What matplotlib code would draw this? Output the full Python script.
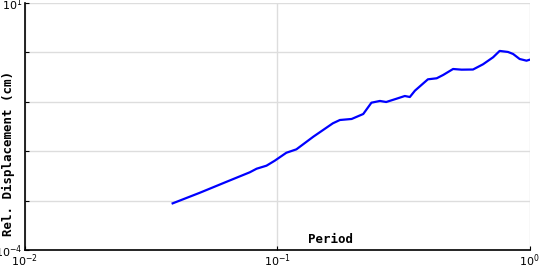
import numpy as np
import matplotlib
matplotlib.use("Agg")
import matplotlib.pyplot as plt

# spectrum values
period = [0.0385, 0.0493, 0.063, 0.0778, 0.0828, 0.0906, 0.0977, 0.1086, 0.119,
          0.139, 0.166, 0.177, 0.197, 0.219, 0.236, 0.255, 0.270, 0.297, 0.320,
          0.335, 0.351, 0.395, 0.428, 0.454, 0.497, 0.537, 0.596, 0.653, 0.716,
          0.760, 0.820, 0.859, 0.912, 0.971, 1.0]
disp = [8.8e-4, 1.44e-3, 2.41e-3, 3.74e-3, 4.42e-3, 5.09e-3, 6.42e-3, 9.3e-3, 0.0109,
        0.0197, 0.0367, 0.0428, 0.0449, 0.0566, 0.0959, 0.104, 0.099, 0.1156, 0.131,
        0.125, 0.168, 0.285, 0.299, 0.349, 0.461, 0.447, 0.450, 0.574, 0.796,
        1.07, 1.02, 0.929, 0.735, 0.679, 0.711]

xticks = [1e-2, 1e-1, 1e0]
xticklabels = ['$10^{-2}$', '$10^{-1}$', '$10^{0}$']
yticks = [1e-4, 1e-3, 1e-2, 1e-1, 1e0, 1e1]
yticklabels = ['$10^{-4}$', '', '', '', '', '$10^{1}$']

plt.rcParams['font.family'] = 'DejaVu Sans Mono'
plt.rcParams['mathtext.fontset'] = 'dejavusans'

fig = plt.figure(figsize=(5.4, 2.7), dpi=100)
ax = fig.add_axes([0.046, 0.074, 0.935, 0.915])
ax.plot(period, disp, color='#0000ff', linewidth=1.6)
ax.set_xscale('log')
ax.set_yscale('log')
ax.set_xlim(1e-2, 1e0)
ax.set_ylim(1e-4, 1e1)
ax.set_xticks(xticks)
ax.set_xticklabels(xticklabels, fontsize=8)
ax.set_yticks(yticks)
ax.set_yticklabels(yticklabels, fontsize=8)
ax.minorticks_off()
ax.tick_params(direction='in', length=3, pad=2)
ax.grid(True, color='#dddddd', linewidth=1)
ax.set_axisbelow(True)
for s in ['top', 'right']:
    ax.spines[s].set_visible(False)
ax.spines['left'].set_linewidth(1.2)
ax.spines['bottom'].set_linewidth(1.2)
ax.text(0.605, 0.015, 'Period', transform=ax.transAxes, ha='center', va='bottom',
        fontsize=9, fontweight='bold')
fig.text(0.015, 0.43, 'Rel. Displacement (cm)', rotation=90, ha='center', va='center',
         fontsize=9, fontweight='bold')
fig.savefig('out.png', dpi=100)
